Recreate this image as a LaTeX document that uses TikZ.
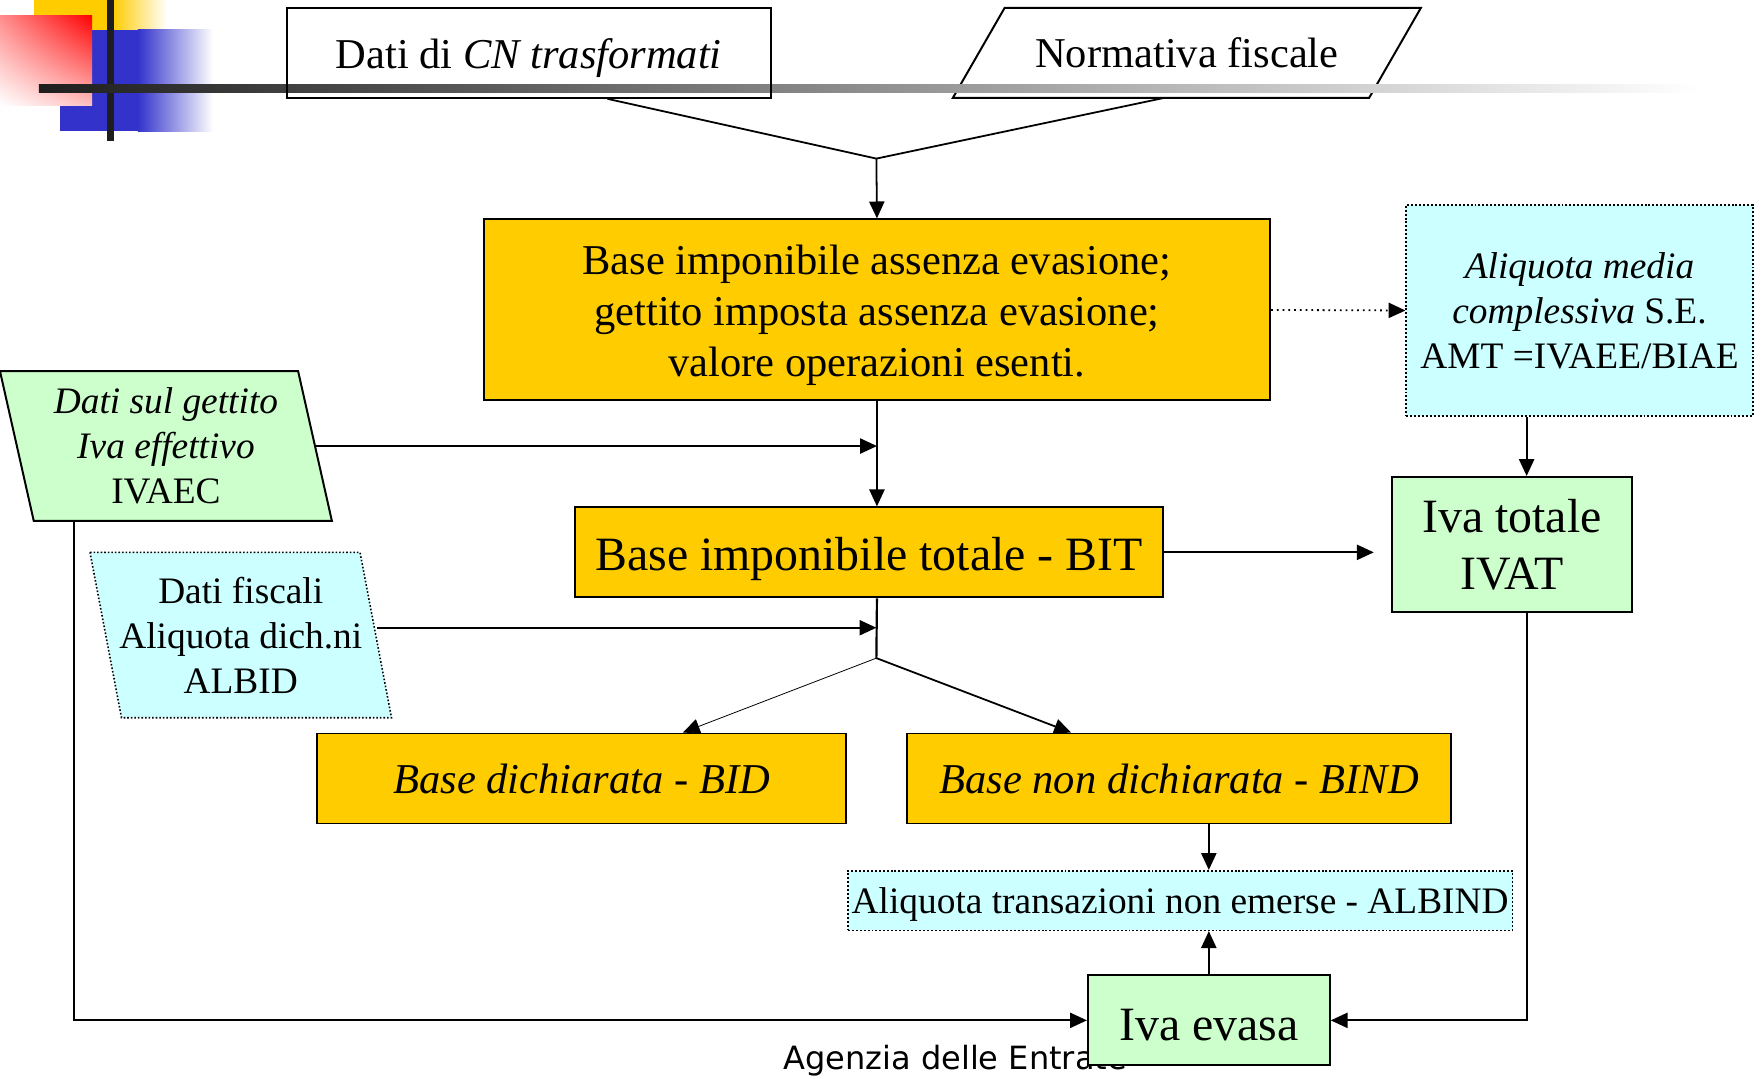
\documentclass[tikz,border=0pt]{standalone}
\usepackage{fontspec}
\setmainfont{Liberation Serif}
\newfontfamily\footfont{DejaVu Sans}
\usetikzlibrary{calc,positioning,shapes.geometric,arrows.meta,shadings,backgrounds}

\definecolor{boxorange}{HTML}{FFCC00}
\definecolor{boxgreen}{HTML}{CCFFCC}
\definecolor{boxcyan}{HTML}{CCFFFF}
\definecolor{logoblue}{HTML}{3333CC}
\definecolor{logodark}{HTML}{1E1E1E}

\begin{document}
\begin{tikzpicture}[
		frame/.style={draw, line width=1pt},
		dotframe/.style={draw, densely dotted, line width=0.8pt},
		box/.style={frame, align=center, inner sep=2pt},
		orangebox/.style={box, fill=boxorange},
		greenbox/.style={box, fill=boxgreen},
		cyanbox/.style={box, dotframe, fill=boxcyan},
		slantbox/.style={align=center, inner sep=0pt, outer sep=0pt},
		txtmid/.style={font=\fontsize{21.5}{25.6}\selectfont},
		txtsmall/.style={font=\fontsize{18.9}{22.8}\selectfont},
		txtbig/.style={font=\fontsize{24.2}{29}\selectfont},
		wire/.style={line width=0.9pt},
		link/.style={wire, -{Triangle[length=0.3cm, width=0.27cm]}}
		]
		
		\useasboundingbox (0,0) rectangle (31.36,19.18);
		
		% Logo in the corner
		\fill[boxorange] (0.604,18.63) rectangle (2.0,19.18);
		\shade[left color=boxorange, right color=white] (2.0,18.63) rectangle (2.97,19.18);
		\fill[logoblue] (1.067,16.85) rectangle (2.45,18.65);
		\shade[left color=logoblue, right color=white] (2.45,16.85) rectangle (3.79,18.65);
		\shade[upper left=red!45, upper right=red, lower left=white, lower right=red!25] (0,17.31) rectangle (1.636,18.91);
		\fill[logodark] (1.90,16.67) rectangle (2.03,19.18);
		\shade[left color=logodark, right color=white] (0.69,17.53) rectangle (30.2,17.67);
		
		% Nodes
		\node[box, txtmid, text height=20.4pt, minimum width=8.6cm, minimum height=1.6cm] (cn) at (9.4,18.24) {Dati di \textit{CN trasformati}};
		\node[slantbox, txtmid, minimum width=8.32cm, minimum height=1.6cm] (norm) at (21.1,18.24) {Normativa fiscale};
		\coordinate (j1) at (15.58,16.36);
		
		\node[orangebox, txtmid, text height=71.6pt, minimum width=13.98cm, minimum height=3.22cm] (biae) at (15.59,13.67) {Base imponibile assenza evasione;\\ gettito imposta assenza evasione;\\ valore operazioni esenti.};
		\node[cyanbox, txtsmall, minimum width=6.16cm, minimum height=3.76cm] (amt) at (28.08,13.66) {\textit{Aliquota media}\\ \textit{complessiva} S.E.\\ AMT =IVAEE/BIAE};
		\node[greenbox, txtbig, minimum width=4.28cm, minimum height=2.4cm] (ivat) at (26.88,9.5) {Iva totale\\ IVAT};
		\coordinate (rcol) at (27.14,0);
		
		\node[slantbox, txtsmall, minimum width=5.9cm, minimum height=2.66cm] (ivaec) at (2.95,11.25) {\textit{Dati sul gettito}\\ \textit{Iva effettivo}\\ IVAEC};
		\coordinate (lcol) at (1.32,0);
		\node[orangebox, txtbig, text height=23.3pt, minimum width=10.46cm, minimum height=1.6cm] (bit) at (15.45,9.36) {Base imponibile totale - BIT};
		\node[slantbox, txtsmall, minimum width=5.36cm, minimum height=2.94cm] (albid) at (4.28,7.89) {Dati fiscali\\ Aliquota dich.ni\\ ALBID};
		\coordinate (j2) at (15.58,7.48);
		
		\node[orangebox, txtmid, minimum width=9.4cm, minimum height=1.6cm] (bid) at (10.34,5.34) {\textit{Base dichiarata - BID}};
		\node[orangebox, txtmid, minimum width=9.68cm, minimum height=1.6cm] (bind) at (20.96,5.34) {\textit{Base non dichiarata - BIND}};
		\node[cyanbox, txtsmall, text height=17.5pt, minimum width=11.8cm, minimum height=1.06cm] (albind) at (20.98,3.17) {Aliquota transazioni non emerse - ALBIND};
		
		% Footer, partly hidden by the last box
		\node[font=\footfont\fontsize{16.2}{16.2}\selectfont, anchor=base west, inner sep=0pt] (footer) at (13.92,0.16) {Agenzia delle Entrate};
		\node[greenbox, txtbig, text height=20.6pt, minimum width=4.3cm, minimum height=1.6cm] (evasa) at (21.49,1.04) {Iva evasa};
		
		% Slanted input boxes
		\begin{pgfonlayer}{background}
			\draw[frame] (norm.south west) -- ([xshift=0.92cm]norm.north west) -- (norm.north east) -- ([xshift=-0.92cm]norm.south east) -- cycle;
			\draw[frame, fill=boxgreen] (ivaec.north west) -- ([xshift=-0.6cm]ivaec.north east) -- (ivaec.south east) -- ([xshift=0.6cm]ivaec.south west) -- cycle;
			\draw[dotframe, fill=boxcyan] (albid.north west) -- ([xshift=-0.56cm]albid.north east) -- (albid.south east) -- ([xshift=0.56cm]albid.south west) -- cycle;
		\end{pgfonlayer}
		
		% Connectors
		\draw[wire] ([xshift=1.4cm]cn.south) -- (j1);
		\draw[wire] ([xshift=-0.4cm]norm.south) -- (j1);
		\draw[link] (j1) -- (biae.north);
		\draw[link, dotted] (biae.east) -- (amt.west);
		\draw[link] (amt.south -| rcol) -- (ivat.north -| rcol);
		\draw[link] ([xshift=-0.3cm]ivaec.east) -- (ivaec.east -| biae.south);
		\draw[link] (biae.south) -- (biae.south |- bit.north);
		\draw[link, shorten >=0.3cm] (bit.east) -- (bit.east -| ivat.west);
		\draw[wire, line width=1.1pt] (biae.south |- bit.south) -- (j2);
		\draw[link] ([xshift=-0.26cm, yshift=0.13cm]albid.east) -- ([yshift=0.13cm]albid.east -| j2);
		\draw[link, line width=0.4pt] (j2) -- ([xshift=1.8cm]bid.north);
		\draw[link] (j2) -- ([xshift=-1.92cm]bind.north);
		\draw[link] (bind.south -| evasa.north) -- (albind.north -| evasa.north);
		\draw[link] (evasa.north) -- (albind.south -| evasa.north);
		\draw[link] (ivaec.south -| lcol) |- (evasa.west);
		\draw[link] (ivat.south -| rcol) |- (evasa.east);
		
	\end{tikzpicture}
\end{document}
